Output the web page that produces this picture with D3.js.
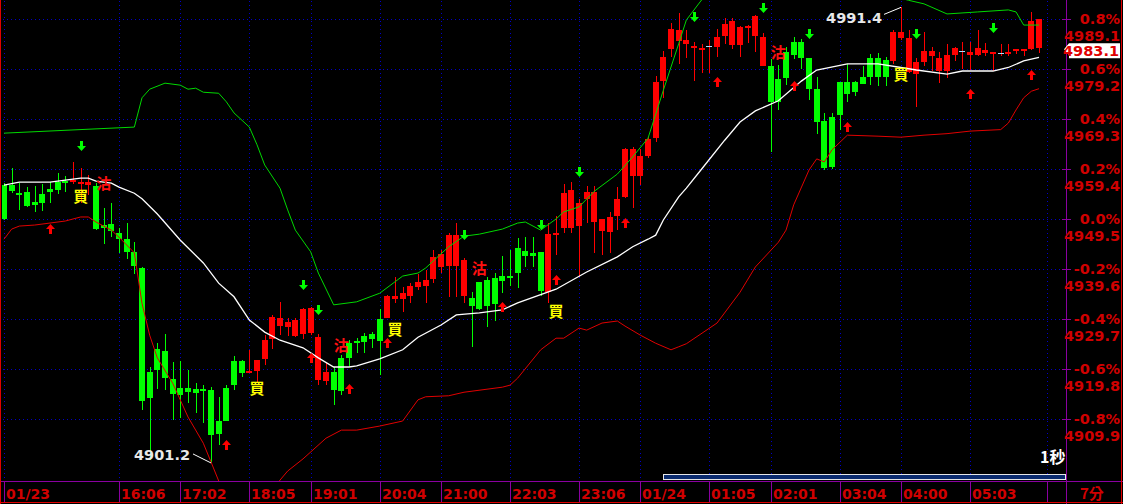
<!DOCTYPE html>
<html><head><meta charset="utf-8">
<script src="https://cdn.jsdelivr.net/npm/d3@7"></script>
<style>html,body{margin:0;padding:0;background:#000;overflow:hidden}svg{display:block}</style>
</head><body><svg id="c" width="1123" height="504"></svg>
<script>
// ---------------- DATA ----------------
const opens = [4956.2,4956.2,4954.7,4954.9,4952.9,4954.5,4955.4,4956.8,4957.0,4956.8,
4956.6,4956.2,4956.0,4948.3,4948.5,4946.7,4945.5,4943.0,4939.8,4919.2,
4923.8,4923.4,4917.8,4916.0,4916.0,4915.8,4915.8,4915.6,4909.5,4916.0,
4921.4,4921.4,4919.0,4919.4,4921.8,4925.7,4928.3,4928.1,4926.3,4926.7,
4926.9,4917.6,4917.4,4919.2,4922.0,4924.9,4925.3,4926.3,4926.7,4929.7,
4929.9,4933.7,4933.7,4934.3,4936.0,4936.2,4937.6,4940.0,4940.2,4940.2,
4934.3,4933.9,4937.0,4937.4,4937.8,4938.2,4938.2,4943.8,4943.2,4942.7,
4943.0,4935.0,4946.5,4947.7,4947.7,4948.1,4953.5,4948.9,4947.1,4946.9,
4950.1,4953.9,4958.0,4958.0,4962.0,4965.5,4976.8,4983.2,4984.7,4984.1,
4983.6,4983.2,4983.8,4983.6,4985.7,4984.0,4983.9,4987.6,4985.8,4979.8,
4979.7,4977.2,4982.6,4984.5,4984.6,4981.3,4975.3,4969.0,4969.6,4976.6,
4976.6,4976.6,4977.6,4981.3,4981.3,4981.0,4980.7,4985.3,4978.7,4978.3,
4980.5,4981.7,4978.8,4978.8,4982.0,4982.8,4982.0,4982.0,4982.4,4982.2,
4982.4,4982.4,4982.8,4983.0,4983.2,4983.4];
const highs = [4956.6,4959.6,4956.6,4955.8,4956.0,4956.4,4956.8,4958.6,4958.0,4960.8,
4959.6,4958.2,4956.6,4951.7,4952.7,4947.7,4948.7,4944.9,4940.0,4920.2,
4924.9,4926.7,4921.2,4921.4,4919.6,4917.0,4916.6,4916.2,4914.2,4916.6,
4922.4,4921.6,4923.6,4921.6,4926.5,4930.5,4933.1,4929.9,4929.9,4931.9,
4932.1,4926.7,4921.0,4920.2,4922.6,4925.5,4925.9,4926.9,4927.1,4931.7,
4934.4,4938.0,4936.0,4936.8,4938.6,4939.4,4943.4,4943.4,4946.7,4948.7,
4941.8,4935.0,4937.0,4938.0,4938.8,4942.2,4943.4,4945.7,4945.9,4945.9,
4943.0,4948.7,4950.1,4956.4,4956.8,4953.5,4956.0,4956.0,4949.5,4950.9,
4955.8,4963.6,4963.8,4963.4,4965.7,4977.8,4982.8,4988.3,4990.2,4986.9,
4984.6,4984.1,4984.9,4987.1,4989.2,4989.2,4987.7,4987.9,4989.9,4986.3,
4981.2,4980.0,4983.6,4985.5,4985.1,4981.4,4977.6,4970.5,4970.5,4976.6,
4980.2,4976.8,4979.8,4982.2,4982.4,4981.6,4986.9,4991.4,4986.9,4981.4,
4986.5,4983.6,4982.6,4984.1,4983.6,4984.5,4984.6,4986.9,4984.3,4982.6,
4984.1,4984.1,4983.2,4983.2,4990.4,4989.1];
const lows = [4949.3,4954.7,4951.3,4951.9,4950.9,4951.1,4952.7,4954.5,4954.9,4956.4,
4952.7,4954.3,4947.3,4944.5,4945.9,4942.8,4941.6,4938.6,4911.7,4901.8,
4915.8,4915.6,4909.7,4910.1,4913.1,4911.1,4909.1,4901.2,4904.7,4909.5,
4915.6,4918.2,4919.0,4917.0,4920.6,4923.8,4926.5,4926.3,4926.1,4925.7,
4926.5,4916.6,4916.6,4912.7,4914.6,4920.4,4923.0,4923.0,4924.0,4918.6,
4929.9,4932.9,4931.1,4932.9,4935.4,4932.9,4936.8,4938.8,4934.1,4934.1,
4932.9,4924.2,4931.5,4928.1,4929.3,4934.8,4936.2,4935.8,4940.0,4940.0,
4934.3,4932.9,4942.4,4946.7,4946.7,4938.0,4948.7,4942.8,4942.4,4942.8,
4947.3,4953.7,4951.7,4956.2,4961.6,4964.7,4973.5,4981.6,4980.2,4981.4,
4976.9,4978.4,4978.4,4981.6,4984.1,4983.2,4981.6,4984.3,4982.6,4979.8,
4962.8,4971.1,4976.1,4981.2,4979.2,4973.1,4966.4,4959.2,4959.4,4967.1,
4972.7,4973.8,4976.2,4976.1,4975.8,4975.8,4980.2,4984.9,4978.4,4971.6,
4979.8,4978.8,4976.4,4977.5,4980.8,4979.2,4979.0,4981.8,4981.8,4978.8,
4981.8,4981.8,4982.2,4981.8,4983.0,4982.4];
const closes = [4949.5,4955.0,4954.5,4952.1,4952.3,4952.7,4954.9,4955.2,4956.6,4957.2,
4956.8,4956.8,4947.5,4947.7,4947.1,4945.5,4943.0,4940.2,4913.5,4914.1,
4919.6,4918.0,4914.8,4914.6,4915.2,4915.0,4915.4,4906.7,4906.9,4909.5,
4916.6,4919.0,4919.4,4921.6,4925.5,4930.1,4929.9,4929.1,4929.5,4931.7,
4931.9,4926.1,4919.2,4915.6,4915.4,4922.0,4924.9,4925.1,4925.7,4925.3,
4934.3,4934.3,4934.8,4936.2,4937.0,4937.4,4942.0,4942.6,4946.3,4946.3,
4941.4,4932.3,4931.7,4932.3,4932.7,4937.2,4938.0,4938.8,4942.2,4942.2,
4935.2,4946.5,4946.7,4954.7,4955.2,4952.7,4954.9,4954.9,4949.5,4949.9,
4953.5,4963.4,4963.4,4962.0,4965.3,4976.6,4981.6,4987.1,4986.9,4984.9,
4983.8,4983.4,4983.8,4985.6,4988.2,4988.7,4987.6,4987.8,4989.7,4985.5,
4972.7,4972.7,4977.4,4982.0,4981.4,4975.2,4968.7,4959.6,4959.8,4970.1,
4974.2,4974.6,4976.2,4977.7,4977.7,4977.7,4986.5,4986.5,4985.3,4980.5,
4982.8,4982.8,4981.4,4982.0,4983.4,4982.8,4982.6,4983.4,4983.0,4982.6,
4982.4,4982.6,4983.2,4983.2,4988.7,4989.1];

// Bollinger band readings: [candle index, price]
const upperBand = [[0,4966.5],[17,4967.7],[18,4973.5],[19,4975.2],[21,4976.4],[23,4976.0],[24,4975.2],[25,4975.4],[26,4974.6],[28,4974.4],[29,4972.7],[30,4970.5],[32,4967.7],[33,4964.2],[34,4960.2],[36,4955.6],[37,4951.3],[38,4947.3],[40,4943.0],[41,4938.8],[43,4932.5],[46,4933.1],[49,4934.8],[52,4938.2],[54,4938.8],[55,4939.8],[58,4944.0],[60,4946.1],[62,4946.5],[65,4947.5],[67,4948.7],[68,4948.9],[70,4947.3],[72,4949.5],[73,4950.9],[75,4951.9],[77,4955.0],[80,4958.4],[82,4961.8],[84,4965.5],[86,4975.0],[88,4984.2],[89,4988.9],[91,4992.9],[95,4998.8],[100,5000.8],[105,4998.8],[110,4994.8],[115,4993.5],[117,4993.2],[118,4992.8],[120,4992.1],[123,4990.1],[127,4990.5],[131,4990.9],[132,4990.5],[133,4987.9],[135,4987.9]];
const midBand = [[0,4956.2],[2,4956.8],[6,4956.8],[8,4957.2],[10,4957.6],[11,4957.6],[12,4957.0],[14,4956.6],[15,4955.8],[17,4954.6],[18,4953.5],[20,4950.5],[23,4945.3],[26,4940.8],[28,4936.8],[30,4934.1],[32,4929.5],[34,4927.1],[36,4925.5],[39,4924.0],[41,4922.0],[43,4920.2],[45,4920.2],[46,4920.4],[49,4921.8],[52,4923.6],[54,4926.1],[57,4928.5],[59,4930.5],[62,4930.9],[65,4931.5],[67,4932.9],[72,4935.6],[76,4939.0],[80,4942.0],[82,4944.0],[84,4945.5],[85,4946.3],[86,4949.3],[88,4953.9],[89,4955.6],[91,4959.4],[94,4965.1],[96,4968.7],[98,4970.9],[101,4972.9],[104,4976.8],[106,4979.0],[110,4980.2],[114,4980.2],[117,4979.5],[119,4979.0],[123,4978.2],[125,4978.8],[129,4978.8],[131,4979.5],[133,4980.8],[135,4981.5]];
const lowerBand = [[0,4945.5],[1,4947.5],[2,4948.1],[4,4948.3],[6,4948.7],[8,4949.1],[10,4949.9],[11,4949.9],[12,4948.9],[14,4947.3],[15,4945.9],[17,4942.8],[18,4932.8],[19,4926.5],[20,4922.0],[22,4917.0],[24,4910.3],[26,4905.1],[27,4901.4],[29,4893.9],[33,4891.9],[36,4897.8],[37,4899.6],[39,4902.0],[42,4906.1],[44,4907.7],[46,4907.7],[49,4908.5],[52,4909.5],[54,4913.7],[55,4914.3],[58,4914.5],[60,4915.2],[65,4916.2],[66,4916.6],[67,4918.0],[70,4923.6],[72,4925.9],[73,4925.9],[75,4927.9],[76,4927.5],[78,4928.9],[80,4929.3],[81,4928.3],[83,4926.5],[85,4924.9],[87,4923.6],[88,4924.2],[89,4924.8],[93,4928.9],[96,4935.0],[98,4940.0],[101,4944.9],[102,4947.3],[103,4952.3],[105,4959.2],[106,4961.4],[107,4960.8],[108,4963.2],[110,4966.1],[114,4965.9],[117,4965.7],[120,4966.1],[123,4966.4],[126,4966.9],[130,4967.2],[131,4968.5],[132,4971.1],[133,4973.5],[134,4974.8],[135,4975.3]];

// signals
const upArrowIdx = [6,29,40,45,50,65,72,81,93,103,110,126,134];
const upArrowPrice = [4947.5,4904.8,4922.0,4915.8,4924.9,4932.1,4937.4,4948.7,4976.6,4975.8,4967.7,4974.2,4978.0];
const downArrowIdx = [10,39,41,60,70,75,90,99,105,119,129];
const downArrowPrice = [4964.0,4936.4,4931.5,4946.3,4948.3,4958.8,4989.5,4991.3,4986.1,4986.1,4987.3];
const buyIdx = [10,33,51,72,117];
const buyPrice = [4954.1,4916.0,4927.7,4931.3,4978.2];
const sellIdx = [13,44,62,101];
const sellPrice = [4956.6,4924.6,4939.8,4982.6];

// axes
const timeTickIdx = [0,15,23,32,40,49,57,66,75,83,92,100,109,117,126,136];
const timeTickLabels = ["01/23","16:06","17:02","18:05","19:01","20:04","21:00","22:03","23:06","01/24","01:05","02:01","03:04","04:00","05:03",""];
const priceTicks = [4989.1,4979.2,4969.3,4959.4,4949.5,4939.6,4929.7,4919.8,4909.9];
const pctTickLabels = ["0.8%","0.6%","0.4%","0.2%","0.0%","-0.2%","-0.4%","-0.6%","-0.8%"];
const priceTickLabels = ["4989.1","4979.2","4969.3","4959.4","4949.5","4939.6","4929.7","4919.8","4909.9"];
const lastPrice = 4983.1;
const highMark = {idx:117, price:4991.4};
const lowMark = {idx:27, price:4901.2};
const periodLabel = "7分";
const speedLabel = "1秒";

// ---------------- DRAW ----------------
const svg = d3.select("#c");
const W = 1123, H = 504, axisX = 1066, axisY = 481;
const x = d3.scaleLinear().domain([0,136]).range([4,1046.7]);
const y = d3.scaleLinear().domain([4909.9,4989.1]).range([419,19]);
const RED = "#ff0000", GREEN = "#00ff00", LBL = "#d00000", PURPLE = "#8a00a0";

svg.append("rect").attr("width",W).attr("height",H).attr("fill","#000");
const defs = svg.append("defs");
defs.append("clipPath").attr("id","plot").append("rect").attr("x",2).attr("y",0).attr("width",axisX-2).attr("height",axisY);

// dotted grid drawn as single-pixel dots
const grid = svg.append("g").attr("fill","#0000c8").attr("shape-rendering","crispEdges");
priceTicks.forEach(v=>{
  const gy = Math.round(y(v));
  grid.selectAll(null).data(d3.range(3, axisX, 4)).enter().append("rect")
    .attr("x",d=>d).attr("y",gy).attr("width",1).attr("height",1);
});
timeTickIdx.forEach(i=>{
  const gx = Math.round(x(i));
  grid.selectAll(null).data(d3.range(1, axisY, 4)).enter().append("rect")
    .attr("x",gx).attr("y",d=>d).attr("width",1).attr("height",1);
});

const plot = svg.append("g").attr("clip-path","url(#plot)");

// candles
const cg = plot.append("g").attr("shape-rendering","crispEdges");
opens.forEach((o,i)=>{
  const c = closes[i], h = highs[i], l = lows[i];
  const cx = Math.round(x(i));
  const col = c>o ? RED : (c<o ? GREEN : RED);
  const yH = y(h), yL = y(l);
  cg.append("rect").attr("x",cx).attr("y",Math.round(yH)).attr("width",1)
    .attr("height",Math.max(1,Math.round(yL)-Math.round(yH))).attr("fill",col);
  const top = Math.round(y(Math.max(o,c))), bot = Math.round(y(Math.min(o,c)));
  if (c===o) {
    cg.append("rect").attr("x",cx-3).attr("y",top).attr("width",6).attr("height",1).attr("fill","#a8dcff");
  } else {
    cg.append("rect").attr("x",cx-3).attr("y",top).attr("width",6).attr("height",Math.max(2,bot-top)).attr("fill",col);
  }
});

// bands
const line = d3.line().x(d=>x(d[0])).y(d=>y(d[1]));
plot.append("path").datum(upperBand).attr("d",line).attr("fill","none").attr("stroke","#00d800").attr("stroke-width",1);
plot.append("path").datum(lowerBand).attr("d",line).attr("fill","none").attr("stroke","#e00000").attr("stroke-width",1);
plot.append("path").datum(midBand).attr("d",line).attr("fill","none").attr("stroke","#ffffff").attr("stroke-width",1.3);

// arrows
const sg = plot.append("g");
upArrowIdx.forEach((i,k)=>{
  const cx = Math.round(x(i))+0.5, cy = Math.round(y(upArrowPrice[k]));
  sg.append("path").attr("d",`M${cx},${cy-5}L${cx+4.5},${cy}L${cx+1.5},${cy}L${cx+1.5},${cy+5}L${cx-1.5},${cy+5}L${cx-1.5},${cy}L${cx-4.5},${cy}Z`).attr("fill",RED);
});
downArrowIdx.forEach((i,k)=>{
  const cx = Math.round(x(i))+0.5, cy = Math.round(y(downArrowPrice[k]));
  sg.append("path").attr("d",`M${cx},${cy+5}L${cx+4.5},${cy}L${cx+1.5},${cy}L${cx+1.5},${cy-5}L${cx-1.5},${cy-5}L${cx-1.5},${cy}L${cx-4.5},${cy}Z`).attr("fill",GREEN);
});
buyIdx.forEach((i,k)=>{
  sg.append("text").attr("x",x(i)).attr("y",y(buyPrice[k])+6).attr("text-anchor","middle")
    .attr("font-family","'Noto Sans CJK TC'").attr("font-weight","bold").attr("font-size",15).attr("fill","#ffff00").text("買");
});
sellIdx.forEach((i,k)=>{
  sg.append("text").attr("x",x(i)).attr("y",y(sellPrice[k])+6).attr("text-anchor","middle")
    .attr("font-family","'Noto Sans CJK TC'").attr("font-weight","bold").attr("font-size",15).attr("fill","#ff1010").text("沽");
});

// high / low labels
const hx = x(highMark.idx), hy = y(highMark.price);
plot.append("line").attr("x1",hx-17).attr("y1",hy+7).attr("x2",hx).attr("y2",hy).attr("stroke","#fff").attr("stroke-width",1);
plot.append("text").attr("x",hx-19).attr("y",hy+15.5).attr("text-anchor","end").attr("font-family","'DejaVu Sans'")
  .attr("font-weight","bold").attr("font-size",14.5).attr("fill","#e8e8e8").text(highMark.price.toFixed(1));
const lx = x(lowMark.idx), ly = y(lowMark.price);
plot.append("line").attr("x1",lx-18).attr("y1",ly-9).attr("x2",lx).attr("y2",ly).attr("stroke","#fff").attr("stroke-width",1);
plot.append("text").attr("x",lx-21).attr("y",ly-3).attr("text-anchor","end").attr("font-family","'DejaVu Sans'")
  .attr("font-weight","bold").attr("font-size",14.5).attr("fill","#e8e8e8").text(lowMark.price.toFixed(1));

// speed label + scrollbar
svg.append("text").attr("x",1040).attr("y",463).attr("font-family","'Noto Sans CJK TC'").attr("font-weight","bold")
  .attr("font-size",16).attr("fill","#fff").text(speedLabel);
svg.append("rect").attr("x",663.5).attr("y",474.5).attr("width",402).attr("height",5)
  .attr("fill","#0a2a6e").attr("stroke","#e6e6e6").attr("stroke-width",1);

// frame
const fr = svg.append("g").attr("shape-rendering","crispEdges");
fr.append("line").attr("x1",axisX+0.5).attr("x2",axisX+0.5).attr("y1",0).attr("y2",H).attr("stroke",PURPLE);
fr.append("line").attr("x1",0).attr("x2",W).attr("y1",axisY+0.5).attr("y2",axisY+0.5).attr("stroke",PURPLE);
timeTickIdx.forEach(i=>{
  const gx = Math.round(x(i))+0.5;
  fr.append("line").attr("x1",gx).attr("x2",gx).attr("y1",axisY).attr("y2",502).attr("stroke",PURPLE);
});
priceTicks.forEach(v=>{
  const gy = Math.round(y(v))+0.5;
  fr.append("line").attr("x1",axisX-4).attr("x2",axisX+5).attr("y1",gy).attr("y2",gy).attr("stroke",PURPLE);
});
fr.append("line").attr("x1",0.5).attr("x2",0.5).attr("y1",0).attr("y2",H).attr("stroke","#e00000").attr("stroke-width",1.5);
fr.append("line").attr("x1",1121.5).attr("x2",1121.5).attr("y1",0).attr("y2",H).attr("stroke","#e00000");
fr.append("line").attr("x1",0).attr("x2",W).attr("y1",502.5).attr("y2",502.5).attr("stroke","#e00000");

// y-axis labels
const yl = svg.append("g").attr("font-family","'DejaVu Sans'").attr("font-weight","bold").attr("font-size",14.5).attr("fill",LBL).attr("text-anchor","end");
priceTicks.forEach((v,k)=>{
  const gy = y(v);
  yl.append("text").attr("x",1120).attr("y",gy+5).text(pctTickLabels[k]);
  yl.append("text").attr("x",1120).attr("y",gy+22).text(priceTickLabels[k]);
});
// last price box
const lpY = y(lastPrice);
svg.append("path").attr("d",`M${axisX-2},${lpY}L${axisX+3},${lpY-6}L${1120},${lpY-6}L${1120},${lpY+9}L${axisX+3},${lpY+9}L${axisX+3},${lpY+6}Z`)
  .attr("fill","#ffffff");
svg.append("text").attr("x",1119).attr("y",lpY+7).attr("text-anchor","end").attr("font-family","'DejaVu Sans'")
  .attr("font-weight","bold").attr("font-size",14.5).attr("fill","#e00000").text(lastPrice.toFixed(1));

// x-axis labels
const xl = svg.append("g").attr("font-family","'DejaVu Sans'").attr("font-weight","bold").attr("font-size",14).attr("fill",LBL);
timeTickIdx.forEach((i,k)=>{
  xl.append("text").attr("x",Math.round(x(i))+2).attr("y",499).text(timeTickLabels[k]);
});
svg.append("text").attr("x",1080).attr("y",499).attr("font-family","'Noto Sans CJK TC'").attr("font-weight","bold")
  .attr("font-size",15).attr("fill",LBL).text(periodLabel);
</script>
</body></html>
